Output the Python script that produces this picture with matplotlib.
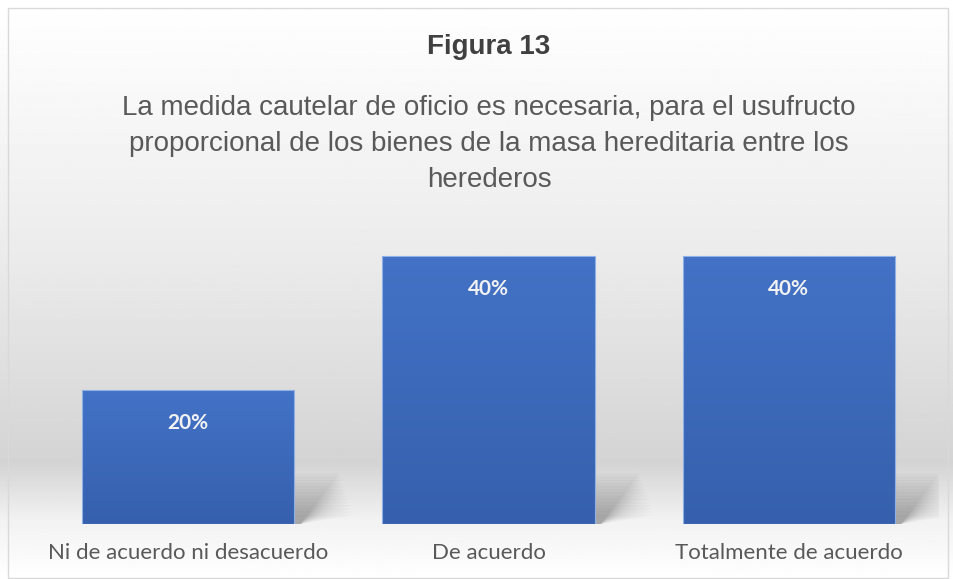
import numpy as np
import matplotlib
matplotlib.use("Agg")
import matplotlib.pyplot as plt
from matplotlib.patches import Rectangle, Polygon
from matplotlib.colors import LinearSegmentedColormap

categories = ["Ni de acuerdo ni desacuerdo", "De acuerdo", "Totalmente de acuerdo"]
values = [0.20, 0.40, 0.40]
labels = ["20%", "40%", "40%"]
title = "Figura 13"
subtitle = "La medida cautelar de oficio es necesaria, para el usufructo\nproporcional de los bienes de la masa hereditaria entre los\nherederos"

W, H = 954, 579
fig = plt.figure(figsize=(W / 100, H / 100), dpi=100)

# background gradient
bg = fig.add_axes([0, 0, 1, 1], zorder=0)
bg.set_axis_off()
ys = np.linspace(0, 1, 400)  # 0 = top
stops_y = [0.0, 0.15, 0.45, 0.80, 0.90, 1.0]
stops_v = [1.0, 0.975, 0.92, 0.83, 0.95, 1.0]
vals = np.interp(ys, stops_y, stops_v)
img = np.repeat(vals[:, None], 2, axis=1)
bg.imshow(img, cmap="gray", vmin=0, vmax=1, aspect="auto", extent=[0, 1, 0, 1], origin="upper")
bg.add_patch(Rectangle((8 / W, 1 - 578 / H), 940 / W, 570 / H, fill=False,
                       edgecolor="#d9d9d9", lw=1, transform=bg.transAxes))
bg.set_xlim(0, 1)
bg.set_ylim(0, 1)

ax = fig.add_axes([38 / W, 1 - 524 / H, 901 / W, 302 / H], zorder=1)
ax.patch.set_alpha(0)
x = np.arange(len(categories))
bw = 0.707
bars = ax.bar(x, values, width=bw, color="none", edgecolor="#8fb0e6", lw=0.8, zorder=3)
ax.set_xlim(-0.5, len(categories) - 0.5)
ax.set_ylim(0, 0.45)

cmap = LinearSegmentedColormap.from_list("b", ["#3660ad", "#4372c6"])
grad = np.linspace(0, 1, 256)[:, None]
for b, v in zip(bars, values):
    x0 = b.get_x()
    im = ax.imshow(grad, cmap=cmap, aspect="auto", origin="lower",
                   extent=[x0, x0 + bw, 0, v], zorder=2)
    im.set_clip_path(b)
    # soft shadow to the right of bar base
    for i in range(14):
        hh = 0.075 * (1 - i / 16)
        sh = Polygon([(x0 + bw, 0), (x0 + bw, hh),
                      (x0 + bw + 0.15 + i * 0.004, hh),
                      (x0 + bw + 0.02, 0)],
                     closed=True, facecolor="#404040", edgecolor="none", alpha=0.035, zorder=1)
        ax.add_patch(sh)
ax.set_xlim(-0.5, len(categories) - 0.5)
ax.set_ylim(0, 0.45)

for xi, v, lab in zip(x, values, labels):
    ax.annotate(lab, (xi, v), xytext=(0, -33), textcoords="offset pixels",
                ha="center", va="center", color="#f2f2f2", fontsize=15, fontweight="bold",
                family="Lato", zorder=5)

ax.set_xticks(x)
ax.set_xticklabels(categories, fontsize=16, color="#595959", family="Lato")
ax.tick_params(axis="x", length=0, pad=14)
ax.set_yticks([])
for s in ax.spines.values():
    s.set_visible(False)

fig.text(489 / W, 1 - 47 / H, title, ha="center", va="center", fontsize=20, fontweight="bold",
         color="#404040", family="Liberation Sans")
fig.text(489 / W, 1 - 144 / H, subtitle, ha="center", va="center", fontsize=20, color="#595959",
         family="Liberation Sans", linespacing=1.5)

fig.savefig("out.png", dpi=100)
